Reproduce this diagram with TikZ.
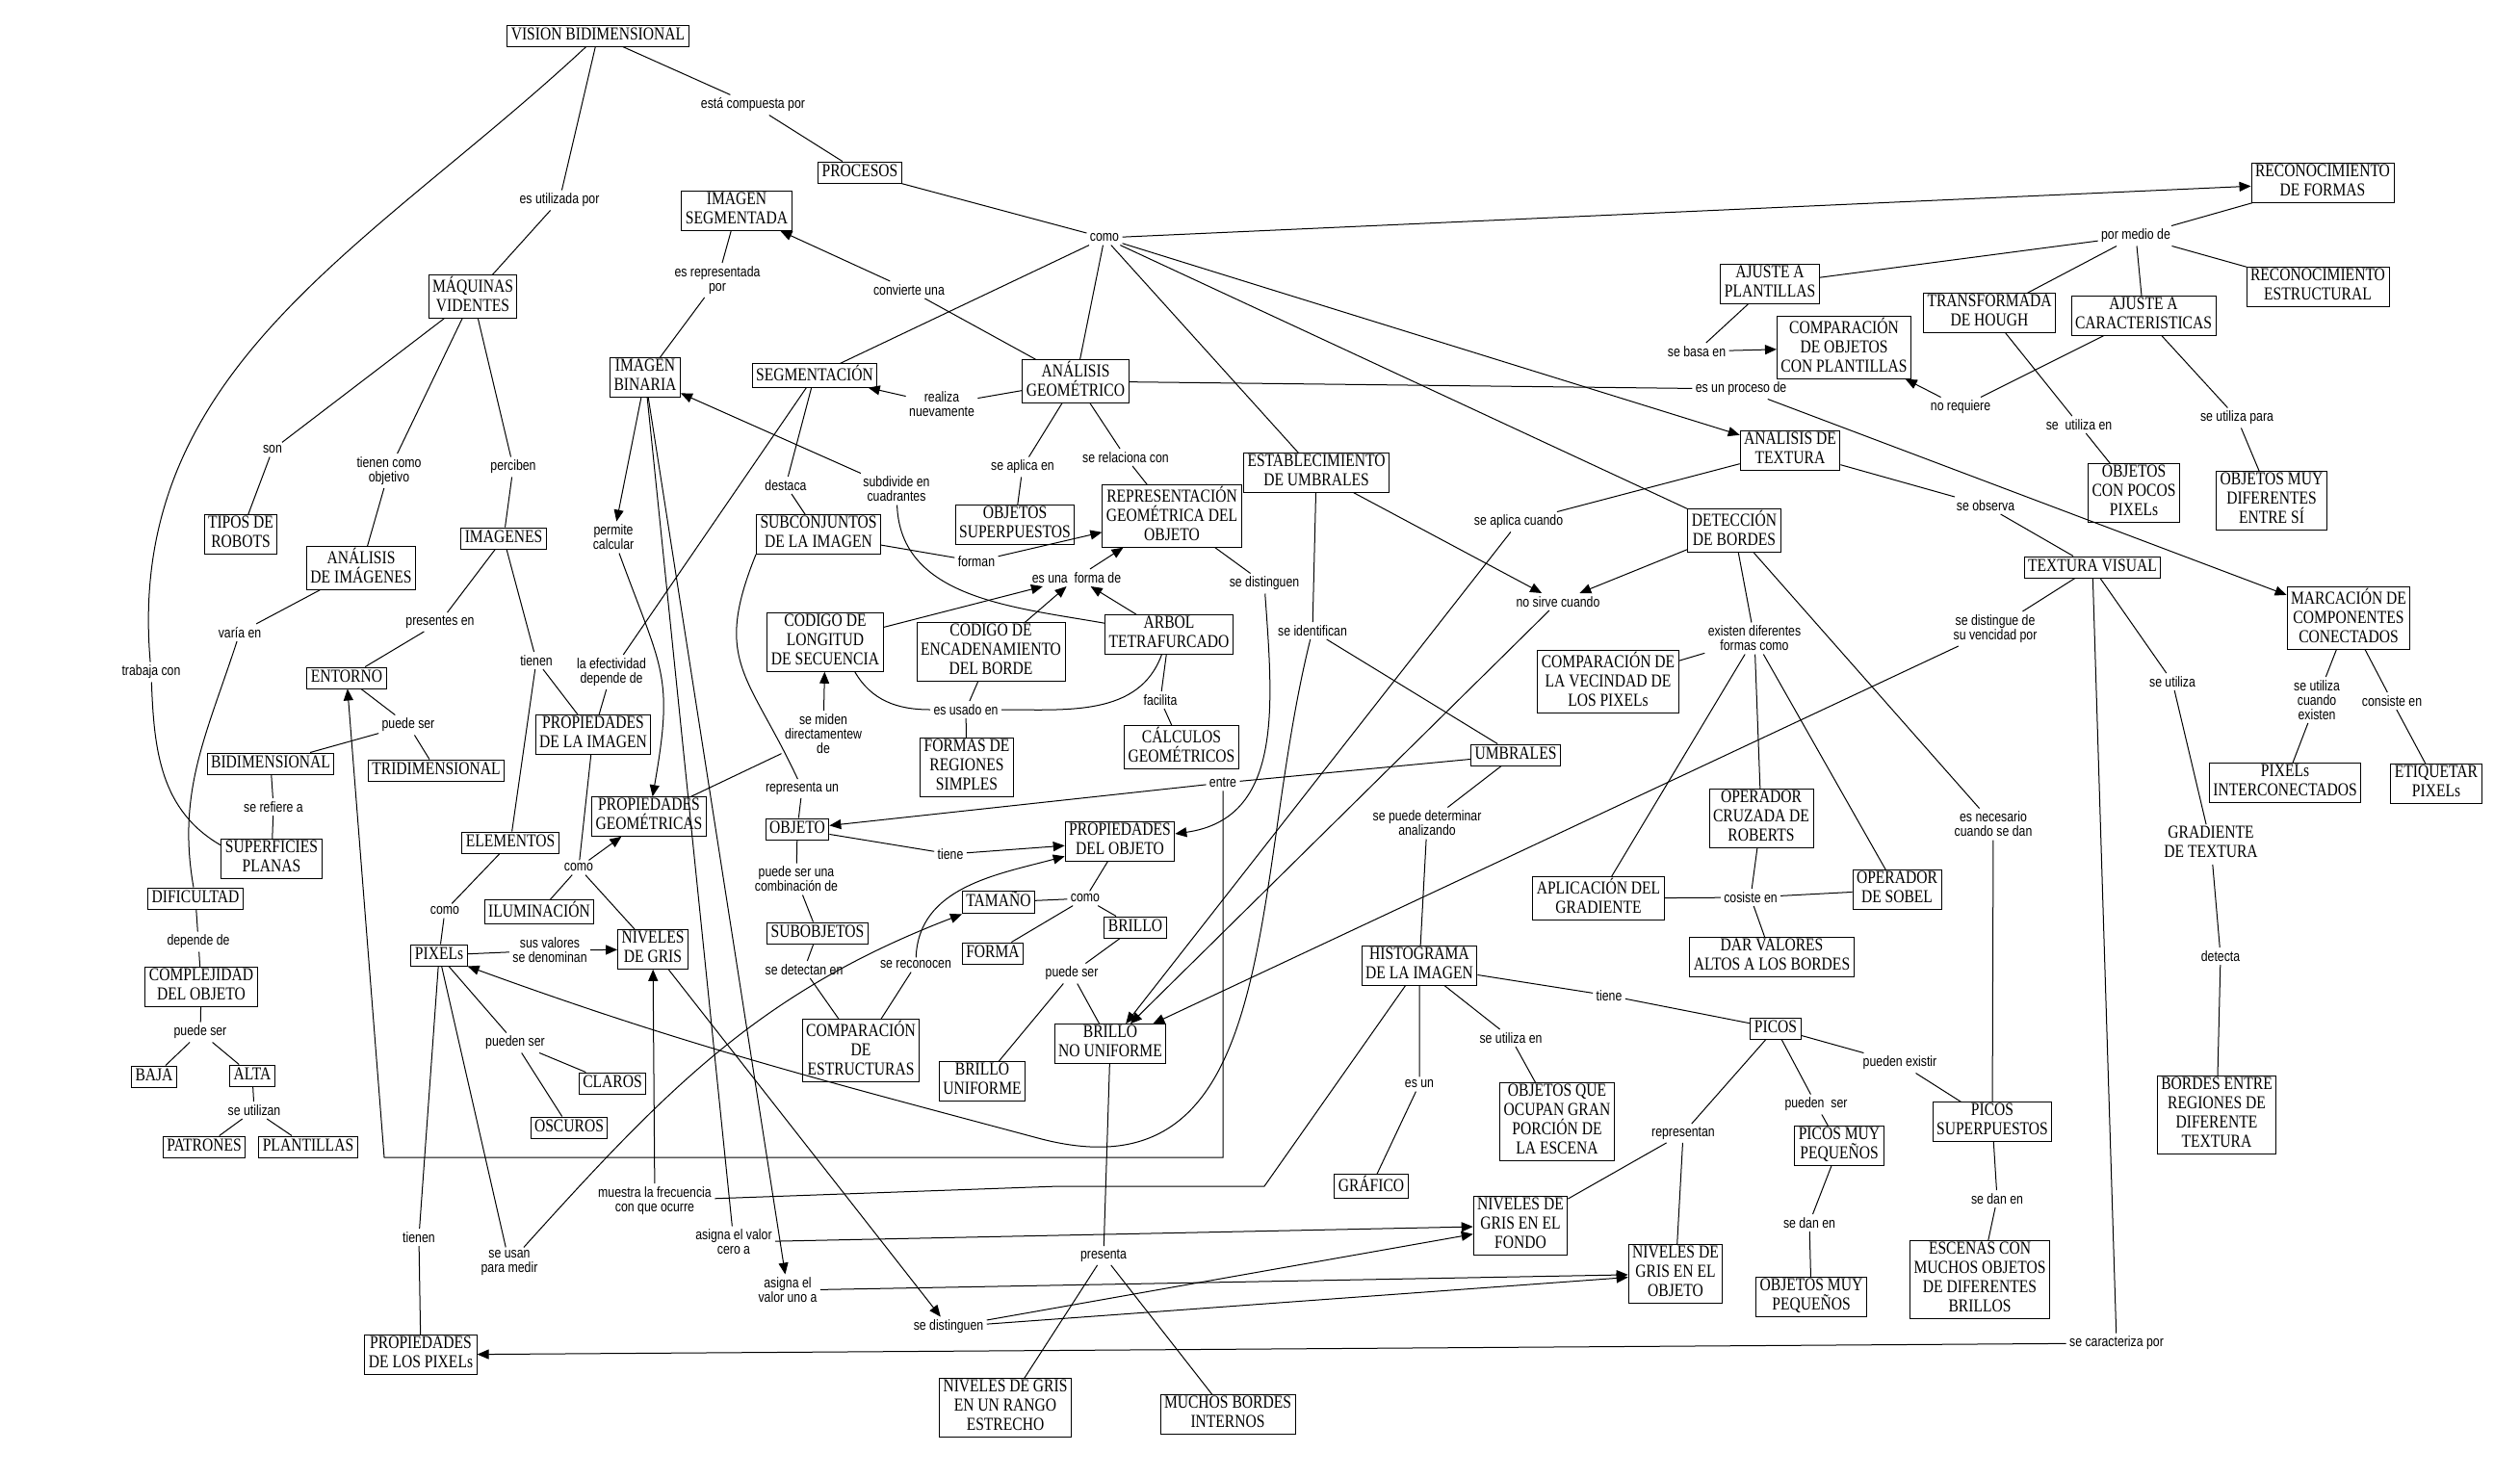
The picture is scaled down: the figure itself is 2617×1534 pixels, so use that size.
\documentclass[tikz,border=0pt]{standalone}
\usepackage{fontspec}
\newfontfamily\conceptfont[FakeStretch=0.82]{Liberation Serif}
\newfontfamily\linkfont[FakeStretch=0.82]{Liberation Sans}
\usetikzlibrary{arrows.meta}

\begin{document}
\begin{tikzpicture}[x=1pt, y=-1pt, line width=1pt,
    concept/.style={draw, align=center, inner xsep=4pt, inner ysep=1pt,
      font=\conceptfont\fontsize{19}{20}\selectfont,
      execute at begin node=\strut, execute at end node=\strut},
    link/.style={align=center, inner sep=3pt, font=\linkfont\fontsize{15}{15}\selectfont},
    arr/.style={-{Triangle[length=12pt,width=10pt]}}]
        \useasboundingbox[fill=white] (0,0) rectangle (2617,1534);

        % concepts
        \node (VB) [concept] at (621,37) {VISION BIDIMENSIONAL};
        \node (PROC) [concept] at (893,179) {PROCESOS};
        \node (ISEG) [concept] at (765,219) {IMAGEN\\SEGMENTADA};
        \node (RDF) [concept] at (2412,190) {RECONOCIMIENTO\\DE FORMAS};
        \node (MV) [concept] at (491,308) {MÁQUINAS\\VIDENTES};
        \node (IB) [concept] at (670,392) {IMAGEN\\BINARIA};
        \node (SEG) [concept] at (846,390) {SEGMENTACIÓN};
        \node (AG) [concept] at (1117,396) {ANÁLISIS\\GEOMÉTRICO};
        \node (AP) [concept] at (1838,295) {AJUSTE A\\PLANTILLAS};
        \node (TH) [concept] at (2066,325) {TRANSFORMADA\\DE HOUGH};
        \node (AC) [concept] at (2226,328) {AJUSTE A\\CARACTERISTICAS};
        \node (RE) [concept] at (2407,298) {RECONOCIMIENTO\\ESTRUCTURAL};
        \node (COP) [concept] at (1915,361) {COMPARACIÓN\\DE OBJETOS\\CON PLANTILLAS};
        \node (AT) [concept] at (1859,468) {ANALISIS DE\\TEXTURA};
        \node (EU) [concept] at (1367,491) {ESTABLECIMIENTO\\DE UMBRALES};
        \node (SUB) [concept] at (850,555) {SUBCONJUNTOS\\DE LA IMAGEN};
        \node (OS) [concept] at (1054,545) {OBJETOS\\SUPERPUESTOS};
        \node (RGO) [concept] at (1217,536) {REPRESENTACIÓN\\GEOMÉTRICA DEL\\OBJETO};
        \node (CLS) [concept] at (857,667) {CODIGO DE\\LONGITUD\\DE SECUENCIA};
        \node (CEB) [concept] at (1029,677) {CODIGO DE\\ENCADENAMIENTO\\DEL BORDE};
        \node (AT4) [concept] at (1214,659) {ARBOL\\TETRAFURCADO};
        \node (FRS) [concept] at (1004,797) {FORMAS DE\\REGIONES\\SIMPLES};
        \node (CG) [concept] at (1227,776) {CÁLCULOS\\GEOMÉTRICOS};
        \node (OBJ) [concept] at (828,861) {OBJETO};
        \node (PO) [concept] at (1163,874) {PROPIEDADES\\DEL OBJETO};
        \node (SUBO) [concept] at (849,969) {SUBOBJETOS};
        \node (TAM) [concept] at (1037,937) {TAMAÑO};
        \node (BRI) [concept] at (1179,963) {BRILLO};
        \node (FOR) [concept] at (1031,990) {FORMA};
        \node (CE) [concept] at (894,1091) {COMPARACIÓN\\DE\\ESTRUCTURAS};
        \node (BU) [concept] at (1020,1123) {BRILLO\\UNIFORME};
        \node (BNU) [concept] at (1153,1084) {BRILLO\\NO UNIFORME};
        \node (NGR) [concept] at (1044,1462) {NIVELES DE GRIS\\EN UN RANGO\\ESTRECHO};
        \node (MBI) [concept] at (1275,1469) {MUCHOS BORDES\\INTERNOS};
        \node (TR) [concept] at (250,555) {TIPOS DE\\ROBOTS};
        \node (AI) [concept] at (375,590) {ANÁLISIS\\DE IMÁGENES};
        \node (IMG) [concept] at (523,559) {IMAGENES};
        \node (ENT) [concept] at (360,704) {ENTORNO};
        \node (BID) [concept] at (281,793) {BIDIMENSIONAL};
        \node (TRI) [concept] at (453,800) {TRIDIMENSIONAL};
        \node (PI) [concept] at (616,763) {PROPIEDADES\\DE LA IMAGEN};
        \node (SP) [concept] at (282,892) {SUPERFICIES\\PLANAS};
        \node (PG) [concept] at (674,848) {PROPIEDADES\\GEOMÉTRICAS};
        \node (ELE) [concept] at (530,875) {ELEMENTOS};
        \node (DIF) [concept] at (203,933) {DIFICULTAD};
        \node (ILU) [concept] at (560,947) {ILUMINACIÓN};
        \node (NG) [concept] at (678,986) {NIVELES\\DE GRIS};
        \node (PIX) [concept] at (456,992) {PIXELs};
        \node (CO) [concept] at (209,1025) {COMPLEJIDAD\\DEL OBJETO};
        \node (BAJ) [concept] at (160,1118) {BAJA};
        \node (ALT) [concept] at (262,1117) {ALTA};
        \node (PAT) [concept] at (212,1191) {PATRONES};
        \node (PLA) [concept] at (320,1191) {PLANTILLAS};
        \node (CLA) [concept] at (636,1125) {CLAROS};
        \node (OSC) [concept] at (591,1171) {OSCUROS};
        \node (PP) [concept] at (437,1407) {PROPIEDADES\\DE LOS PIXELs};
        \node (HI) [concept] at (1474,1003) {HISTOGRAMA\\DE LA IMAGEN};
        \node (UMB) [concept] at (1574,784) {UMBRALES};
        \node (DB) [concept] at (1801,551) {DETECCIÓN\\DE BORDES};
        \node (CV) [concept] at (1670,708) {COMPARACIÓN DE\\LA VECINDAD DE\\LOS PIXELs};
        \node (OCR) [concept] at (1829,850) {OPERADOR\\CRUZADA DE\\ROBERTS};
        \node (AGR) [concept] at (1660,933) {APLICACIÓN DEL\\GRADIENTE};
        \node (OSB) [concept] at (1970,924) {OPERADOR\\DE SOBEL};
        \node (DVA) [concept] at (1840,994) {DAR VALORES\\ALTOS A LOS BORDES};
        \node (OCP) [concept] at (2216,512) {OBJETOS\\CON POCOS\\PIXELs};
        \node (OMD) [concept] at (2359,520) {OBJETOS MUY\\DIFERENTES\\ENTRE SÍ};
        \node (TV) [concept] at (2173,589) {TEXTURA VISUAL};
        \node (MCC) [concept] at (2439,642) {MARCACIÓN DE\\COMPONENTES\\CONECTADOS};
        \node (PIC) [concept] at (2373,813) {PIXELs\\INTERCONECTADOS};
        \node (EP) [concept] at (2530,814) {ETIQUETAR\\PIXELs};
        \node (GT) [concept, draw=none] at (2296,877) {GRADIENTE\\DE TEXTURA};
        \node (BER) [concept] at (2302,1158) {BORDES ENTRE\\REGIONES DE\\DIFERENTE\\TEXTURA};
        \node (PS) [concept] at (2069,1165) {PICOS\\SUPERPUESTOS};
        \node (ECM) [concept] at (2056,1329) {ESCENAS CON\\MUCHOS OBJETOS\\DE DIFERENTES\\BRILLOS};
        \node (PK) [concept] at (1844,1068) {PICOS};
        \node (PMP) [concept] at (1910,1190) {PICOS MUY\\PEQUEÑOS};
        \node (OMP) [concept] at (1881,1347) {OBJETOS MUY\\PEQUEÑOS};
        \node (OGP) [concept] at (1617,1165) {OBJETOS QUE\\OCUPAN GRAN\\PORCIÓN DE\\LA ESCENA};
        \node (GRA) [concept] at (1424,1232) {GRÁFICO};
        \node (NGF) [concept] at (1579,1273) {NIVELES DE\\GRIS EN EL\\FONDO};
        \node (NGO) [concept] at (1740,1323) {NIVELES DE\\GRIS EN EL\\OBJETO};

        % linking phrases
        \node (lComp) [link] at (782,109) {está compuesta por};
        \node (lUtil) [link] at (581,208) {es utilizada por};
        \node (lComo) [link] at (1147,247) {como};
        \node (lRep) [link] at (745,291) {es representada\\por};
        \node (lConv) [link] at (944,301) {convierte una};
        \node (lReal) [link] at (978,420) {realiza\\nuevamente};
        \node (lAplEn) [link] at (1062,485) {se aplica en};
        \node (lRel) [link] at (1169,475) {se relaciona con};
        \node (lDest) [link] at (816,504) {destaca};
        \node (lSubd) [link] at (931,508) {subdivide en\\cuadrantes};
        \node (lSon) [link] at (283,467) {son};
        \node (lObj) [link] at (404,489) {tienen como\\objetivo};
        \node (lPerc) [link] at (533,485) {perciben};
        \node (lPerm) [link] at (637,558) {permite\\calcular};
        \node (lVar) [link] at (249,657) {varía en};
        \node (lTrab) [link] at (157,698) {trabaja con};
        \node (lPres) [link] at (457,646) {presentes en};
        \node (lTien) [link] at (557,686) {tienen};
        \node (lEfec) [link] at (635,698) {la efectividad\\depende de};
        \node (lPS1) [link] at (424,753) {puede ser};
        \node (lRef) [link] at (284,838) {se refiere a};
        \node (lComo2) [link] at (601,901) {como};
        \node (lComo3) [link] at (462,946) {como};
        \node (lSus) [link] at (571,987) {sus valores\\se denominan};
        \node (lDep) [link] at (206,978) {depende de};
        \node (lPS2) [link] at (208,1072) {puede ser};
        \node (lUtz) [link] at (264,1153) {se utilizan};
        \node (lPueden) [link] at (535,1083) {pueden ser};
        \node (lTien2) [link] at (435,1285) {tienen};
        \node (lUsan) [link] at (529,1312) {se usan\\para medir};
        \node (lMues) [link] at (680,1247) {muestra la frecuencia\\con que ocurre};
        \node (lCero) [link] at (762,1290) {asigna el valor\\cero a};
        \node (lUno) [link] at (818,1340) {asigna el\\valor uno a};
        \node (lDist2) [link] at (985,1378) {se distinguen};
        \node (lPresenta) [link] at (1146,1304) {presenta};
        \node (lPS3) [link] at (1113,1011) {puede ser};
        \node (lComo4) [link] at (1127,933) {como};
        \node (lDet) [link] at (835,1007) {se detectan en};
        \node (lRec) [link] at (951,1002) {se reconocen};
        \node (lComb) [link] at (827,913) {puede ser una\\combinación de};
        \node (lTiene) [link] at (987,887) {tiene};
        \node (lRepUn) [link] at (833,819) {representa un};
        \node (lMid) [link] at (855,762) {se miden\\directamentew\\de};
        \node (lUsado) [link] at (1003,737) {es usado en};
        \node (lFac) [link] at (1205,727) {facilita};
        \node (lForman) [link] at (1014,583) {forman};
        \node (lForma) [link] at (1118,600) {es una~~forma de};
        \node (lDist1) [link] at (1313,606) {se distinguen};
        \node (lEntre) [link] at (1270,813) {entre};
        \node (lIdent) [link] at (1363,655) {se identifican};
        \node (lAplC) [link] at (1577,542) {se aplica cuando};
        \node (lNoS) [link] at (1618,625) {no sirve cuando};
        \node (lExist) [link] at (1822,663) {existen diferentes\\formas como};
        \node (lDeterm) [link] at (1482,855) {se puede determinar\\analizando};
        \node (lCos) [link] at (1818,932) {cosiste en};
        \node (lProc) [link] at (1808,404) {es un proceso de};
        \node (lBasa) [link] at (1762,365) {se basa en};
        \node (lMedio) [link] at (2218,245) {por medio de};
        \node (lNoReq) [link] at (2036,423) {no requiere};
        \node (lUtEn) [link] at (2159,441) {se~~utiliza en};
        \node (lUtPara) [link] at (2323,434) {se utiliza para};
        \node (lObs) [link] at (2062,525) {se observa};
        \node (lVec) [link] at (2072,653) {se distingue de\\su vencidad por};
        \node (lUtz2) [link] at (2256,708) {se utiliza};
        \node (lCuando) [link] at (2406,727) {se utiliza\\cuando\\existen};
        \node (lConsiste) [link] at (2484,728) {consiste en};
        \node (lNec) [link] at (2070,856) {es necesario\\cuando se dan};
        \node (lDetecta) [link] at (2306,993) {detecta};
        \node (lCar) [link] at (2198,1395) {se caracteriza por};
        \node (lTiene2) [link] at (1671,1034) {tiene};
        \node (lUtEn2) [link] at (1569,1078) {se utiliza en};
        \node (lEsUn) [link] at (1474,1126) {es un};
        \node (lRepres) [link] at (1748,1177) {representan};
        \node (lPuedenSer) [link] at (1886,1147) {pueden~~ser};
        \node (lDan1) [link] at (1879,1270) {se dan en};
        \node (lExistir) [link] at (1973,1104) {pueden existir};
        \node (lDan2) [link] at (2074,1245) {se dan en};

        % bends of the long connectors
        \coordinate (cE1) at (1270,1202);
        \coordinate (cE2) at (399,1202);
        \coordinate (cM1) at (1313,1232);
        \coordinate (cM2) at (1099,1232);
        \coordinate (cId) at (1078,1182);

        % connectors: top
        \draw (VB) -- (lComp) -- (PROC);
        \draw (VB) -- (lUtil) -- (MV);
        \draw (VB) to[out=-137,in=95] (lTrab);
        \draw (lTrab) to[out=-88,in=150] (SP.165);
        \draw (PROC) -- (lComo);
        \draw[arr] (lComo) -- (RDF);
        \draw[arr] (lComo) -- (AT);
        \draw (lComo) -- (SEG);
        \draw (lComo) -- (AG);
        \draw (lComo) -- (EU);
        \draw (lComo) -- (DB);

        % left part
        \draw (MV) -- (lSon) -- (TR);
        \draw (MV) -- (lObj) -- (AI);
        \draw (MV) -- (lPerc) -- (IMG);
        \draw (AI) -- (lVar);
        \draw (lVar) to[out=-108,in=100] (DIF);
        \draw (IMG) -- (lPres) -- (ENT);
        \draw (IMG) -- (lTien) -- (PI);
        \draw (lTien) -- (ELE);
        \draw (ENT) -- (lPS1) -- (BID);
        \draw (lPS1) -- (TRI);
        \draw (BID) -- (lRef) -- (SP);
        \draw (DIF) -- (lDep) -- (CO);
        \draw (CO) -- (lPS2) -- (BAJ);
        \draw (lPS2) -- (ALT);
        \draw (ALT) -- (lUtz) -- (PAT);
        \draw (lUtz) -- (PLA);
        \draw (PI) -- (lComo2) -- (ILU);
        \draw (lComo2) -- (NG);
        \draw[arr] (lComo2) -- (PG);
        \draw (ELE) -- (lComo3) -- (PIX);
        \draw[arr] (PIX) -- (lSus) -- (NG);
        \draw (PIX) -- (lPueden) -- (CLA);
        \draw (lPueden) -- (OSC);
        \draw (PIX) -- (lTien2) -- (PP);
        \draw (PIX) -- (lUsan);
        \draw[arr] (lUsan) to[out=48,in=-159] (TAM.south west);

        % imagen binaria and segmentation
        \draw (ISEG) -- (lRep) -- (IB);
        \draw (AG) -- (lConv);
        \draw[arr] (lConv) -- (ISEG);
        \draw (AG) -- (lReal);
        \draw[arr] (lReal) -- (SEG);
        \draw[arr] (IB) -- (lPerm);
        \draw[arr] (lPerm) to[out=-70,in=80,looseness=1.3] (PG);
        \draw (IB) -- (lCero);
        \draw[arr] (lCero) -- (NGF);
        \draw[arr] (IB) -- (lUno);
        \draw[arr] (lUno) -- (NGO);
        \draw (SEG) -- (lDest) -- (SUB);
        \draw (SEG) -- (lEfec) -- (PI);
        \draw (lSubd) to[out=-88,in=170] (AT4);
        \draw[arr] (lSubd) -- (IB);
        \draw[arr] (SUB) -- (lForman) -- (RGO);
        \draw (SUB.south west) to[out=-112,in=115,looseness=1.3] (lRepUn);
        \draw (lRepUn) -- (OBJ);
        \draw (PG) -- (lMid);
        \draw[arr] (lMid) -- (CLS);

        % geometric analysis
        \draw (AG) -- (lAplEn) -- (OS);
        \draw (AG) -- (lRel) -- (RGO);
        \draw (AG) -- (lProc);
        \draw[arr] (lProc) -- (MCC);
        \draw[arr] (CLS) -- (lForma);
        \draw[arr] (CEB) -- (lForma);
        \draw[arr] (AT4) -- (lForma);
        \draw[arr] (lForma) -- (RGO);
        \draw (CLS.-45) to[out=-60,in=180] (lUsado);
        \draw (CEB) -- (lUsado);
        \draw (AT4.-110) to[out=-110,in=0] (lUsado);
        \draw (lUsado) -- (FRS);
        \draw (AT4) -- (lFac) -- (CG);
        \draw (RGO) -- (lDist1);
        \draw[arr] (lDist1) to[out=-86,in=8,looseness=1.1] (PO);

        % object
        \draw (OBJ) -- (lComb) -- (SUBO);
        \draw[arr] (OBJ) -- (lTiene) -- (PO);
        \draw (SUBO) -- (lDet) -- (CE);
        \draw (CE) -- (lRec);
        \draw[arr] (lRec) to[out=88,in=-165] (PO);
        \draw (PO) -- (lComo4) -- (TAM);
        \draw (lComo4) -- (BRI);
        \draw (lComo4) -- (FOR);
        \draw (BRI) -- (lPS3) -- (BU);
        \draw (lPS3) -- (BNU);
        \draw (BNU) -- (lPresenta) -- (NGR);
        \draw (lPresenta) -- (MBI);
        \draw[arr] (NG) -- (lDist2);
        \draw[arr] (lDist2) -- (NGF);
        \draw[arr] (lDist2) -- (NGO);

        % thresholds
        \draw (EU) -- (lIdent) -- (UMB);
        \draw[arr] (lIdent) to[out=-104,in=-15,looseness=1.15] (cId) to[out=165,in=-20] (PIX.south east);
        \draw[arr] (EU) -- (lNoS);
        \draw[arr] (DB) -- (lNoS);
        \draw[arr] (lNoS) -- (BNU);
        \draw (UMB) -- (lEntre);
        \draw[arr] (lEntre) -- (OBJ);
        \draw[arr] (lEntre) -- (cE1) -- (cE2) -- (ENT);
        \draw (UMB) -- (lDeterm) -- (HI);
        \draw (HI) -- (cM1) -- (cM2) -- (lMues);
        \draw[arr] (lMues) -- (NG);
        \draw (HI) -- (lTiene2) -- (PK);
        \draw (HI) -- (lUtEn2) -- (OGP);
        \draw (HI) -- (lEsUn) -- (GRA);
        \draw (PK) -- (lRepres) -- (NGF);
        \draw (lRepres) -- (NGO);
        \draw (PK) -- (lPuedenSer) -- (PMP);
        \draw (PMP) -- (lDan1) -- (OMP);
        \draw (PK) -- (lExistir) -- (PS);
        \draw (PS) -- (lDan2) -- (ECM);

        % texture and edges
        \draw (AT) -- (lAplC);
        \draw[arr] (lAplC) -- (BNU);
        \draw (AT) -- (lObs) -- (TV);
        \draw (TV) -- (lVec);
        \draw[arr] (lVec) -- (BNU);
        \draw (TV) -- (lUtz2) -- (GT);
        \draw (GT) -- (lDetecta) -- (BER);
        \draw (TV) -- (lCar);
        \draw[arr] (lCar) -- (PP);
        \draw (DB) -- (lExist) -- (CV);
        \draw (lExist) -- (AGR);
        \draw (lExist) -- (OCR);
        \draw (lExist) -- (OSB);
        \draw (AGR) -- (lCos) -- (DVA);
        \draw (OCR) -- (lCos);
        \draw (OSB) -- (lCos);
        \draw (DB) -- (lNec) -- (PS);
        \draw (MCC) -- (lCuando) -- (PIC);
        \draw (MCC) -- (lConsiste) -- (EP);

        % shape recognition
        \draw (RDF) -- (lMedio) -- (AP);
        \draw (lMedio) -- (TH);
        \draw (lMedio) -- (AC);
        \draw (lMedio) -- (RE);
        \draw[arr] (AP) -- (lBasa) -- (COP);
        \draw[arr] (AC) -- (lNoReq) -- (COP);
        \draw (TH) -- (lUtEn) -- (OCP);
        \draw (AC) -- (lUtPara) -- (OMD);
    \end{tikzpicture}
\end{document}
